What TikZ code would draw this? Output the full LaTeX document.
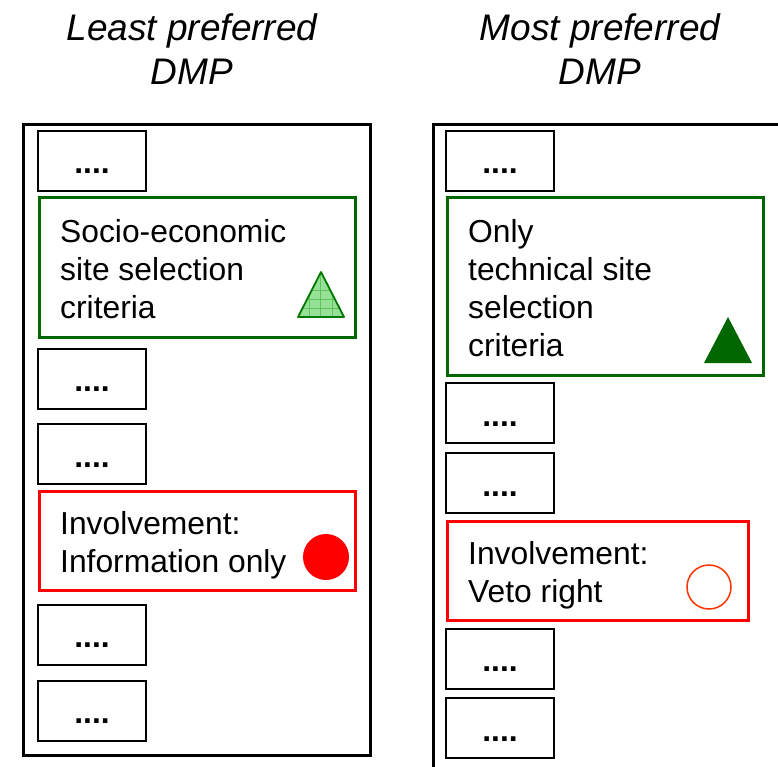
\documentclass[tikz,border=0pt]{standalone}
\usepackage{fontspec}
\setmainfont{Liberation Sans}
\definecolor{dgreen}{RGB}{0,102,0}
\definecolor{trigreen}{RGB}{0,120,0}
\definecolor{lgreen}{RGB}{150,225,150}
\definecolor{gridgreen}{RGB}{95,195,95}
\definecolor{circred}{RGB}{255,51,0}
\tikzset{
 outerbox/.style={draw=black, line width=3pt},
 dotbox/.style={draw=black, line width=2pt, minimum width=108pt, minimum height=60pt, inner sep=0pt, font=\fontsize{31.8}{38}\selectfont\bfseries, text height=26pt, text depth=0pt},
 greenbox/.style={draw=dgreen, line width=3pt},
 redbox/.style={draw=red, line width=3pt},
 body/.style={anchor=base west, inner sep=0pt, font=\fontsize{31.8}{38}\selectfont},
 titletext/.style={anchor=base, inner sep=0pt, font=\fontsize{37}{44}\selectfont\itshape},
}
\begin{document}
\begin{tikzpicture}[x=1pt,y=-1pt]
\useasboundingbox (0,0) rectangle (778,767);
\clip (0,0) rectangle (778,767);
% titles
\node[titletext] (tl1) at (192,41) {Least preferred};
\node[titletext] (tl2) at (192,85) {DMP};
\node[titletext] (tr1) at (600,41) {Most preferred};
\node[titletext] (tr2) at (600,85) {DMP};
% outer boxes
\draw[outerbox] (23.5,124.5) rectangle (370.5,755.5);
\draw[outerbox] (433.5,124.5) rectangle (779.3,800);
% left column
\node[dotbox] (l1) at (92,161) {....};
\draw[greenbox] (39,198) rectangle (355,337);
\node[body] (lg1) at (60,242) {Socio-economic};
\node[body] (lg2) at (60,280) {site selection};
\node[body] (lg3) at (60,318) {criteria};
\begin{scope}
 \clip (321,272) -- (298,317) -- (344,317) -- cycle;
 \fill[lgreen] (290,265) rectangle (350,320);
 \foreach \gx in {309.3,320.7,331.9} \draw[gridgreen, line width=0.8pt] (\gx,265) -- (\gx,320);
 \foreach \gy in {290.7,299.5,308.3} \draw[gridgreen, line width=0.8pt] (290,\gy) -- (350,\gy);
\end{scope}
\draw[trigreen, line width=1.8pt, line join=round] (321,272) -- (298,317) -- (344,317) -- cycle;
\node[dotbox] (l2) at (92,378.5) {....};
\node[dotbox] (l3) at (92,454) {....};
\draw[redbox] (39,491) rectangle (355,590);
\node[body] (lr1) at (60,534) {Involvement:};
\node[body] (lr2) at (60,572) {Information only};
\fill[red] (326,557) circle (23);
\node[dotbox] (l4) at (92,634.5) {....};
\node[dotbox] (l5) at (92,710.5) {....};
% right column
\node[dotbox] (r1) at (500,161) {....};
\draw[greenbox] (447,198) rectangle (763,375);
\node[body] (rg1) at (468,242) {Only};
\node[body] (rg2) at (468,280) {technical site};
\node[body] (rg3) at (468,318) {selection};
\node[body] (rg4) at (468,356) {criteria};
\fill[dgreen] (728,317) -- (704,363) -- (752,363) -- cycle;
\node[dotbox] (r2) at (500,413) {....};
\node[dotbox] (r3) at (500,483) {....};
\draw[redbox] (447,521) rectangle (748,620);
\node[body] (rr1) at (468,564) {Involvement:};
\node[body] (rr2) at (468,602) {Veto right};
\draw[circred, line width=1.5pt] (709,587) circle (22);
\node[dotbox] (r4) at (500,658.5) {....};
\node[dotbox] (r5) at (500,728) {....};
\end{tikzpicture}
\end{document}
